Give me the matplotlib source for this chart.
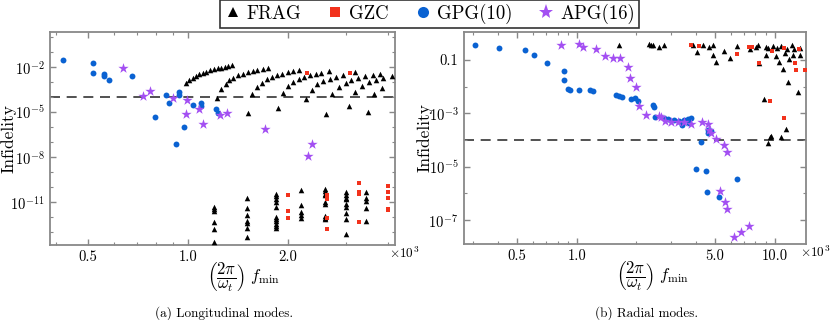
import numpy as np
import matplotlib
matplotlib.use("Agg")
import matplotlib.pyplot as plt
from matplotlib.lines import Line2D

plt.rcParams['font.family'] = 'serif'
plt.rcParams['font.serif'] = ['cmr10', 'DejaVu Serif']
plt.rcParams['mathtext.fontset'] = 'cm'
plt.rcParams['axes.formatter.use_mathtext'] = True

# colours
c_frag = 'black'
c_gzc = '#f2321c'
c_gpg = '#0a62d2'
c_apg = '#a34ff2'

# ---------- (a) longitudinal modes : x in units of 10^3, y as log10(infidelity)
frag_a_x = [0.984, 1.009, 1.033, 1.057, 1.081, 1.107, 1.135, 1.165, 1.195, 1.229, 1.26, 1.292, 1.323, 1.357,
            1.26, 1.226, 1.302, 1.332, 1.369, 1.414, 1.461, 1.516, 1.566, 1.617, 1.679, 1.738,
            1.562, 1.513, 1.61, 1.667, 1.726, 1.787, 1.858, 1.919, 2.0, 2.076, 2.164,
            1.932, 1.863, 1.997, 2.068, 2.155, 2.24, 2.331, 2.43, 2.521, 2.659,
            2.267, 2.358, 2.447, 2.551, 2.684, 2.797, 2.924,
            2.61, 2.72, 2.843, 2.985, 3.091, 3.25, 3.42, 3.6, 3.787, 3.184,
            3.048, 3.19, 3.336, 3.516, 3.685, 3.868, 4.108, 3.477, 3.64, 3.832,
            # lower cluster
            1.195, 1.195, 1.195, 1.195, 1.195, 1.195,
            1.503, 1.503, 1.503, 1.503, 1.503, 1.503, 1.503,
            1.834, 1.834, 1.834, 1.834, 1.834, 1.834, 1.834, 1.834, 1.834, 1.834, 1.834,
            2.194, 2.194, 2.194, 2.194, 2.194,
            2.58, 2.58, 2.58, 2.58, 2.58, 2.58, 2.58, 2.58, 2.58,
            2.985, 2.985, 2.985, 2.985, 2.985, 2.985, 2.985, 2.985, 2.985,
            3.43, 3.43, 3.43, 3.43, 3.43]
frag_a_logy = [-3.07, -2.84, -2.71, -2.60, -2.49, -2.40, -2.31, -2.22, -2.15, -2.09, -2.04, -1.97, -1.93, -1.89,
               -3.47, -4.07, -3.11, -2.89, -2.71, -2.55, -2.44, -2.33, -2.27, -2.20, -2.13, -2.07,
               -3.77, -5.07, -3.33, -3.04, -2.82, -2.67, -2.51, -2.44, -2.33, -2.27, -2.20,
               -3.71, -4.75, -3.27, -3.00, -2.82, -2.67, -2.53, -2.44, -2.37, -2.29,
               -4.15, -3.51, -3.15, -2.93, -2.77, -2.64, -2.51,
               -5.11, -3.77, -3.35, -3.07, -2.87, -2.73, -2.60, -2.51, -2.44, -2.33,
               -4.62, -3.69, -3.29, -3.02, -2.89, -2.71, -2.60, -5.00, -3.82, -3.37,
               -11.33, -11.47, -11.60, -12.29, -12.77, -13.64,
               -10.71, -11.39, -11.82, -12.25, -12.39, -12.75, -13.35,
               -10.44, -10.60, -10.82, -11.02, -11.35, -12.00, -12.13, -12.27, -12.44, -12.57, -12.71,
               -10.20, -11.20, -11.64, -11.82, -12.02,
               -10.11, -10.27, -10.44, -10.55, -11.00, -11.11, -11.95, -12.04, -12.13,
               -10.33, -10.49, -10.71, -10.82, -11.11, -11.33, -11.71, -12.11, -13.13,
               -10.33, -10.71, -10.89, -11.37, -12.22]

gzc_a_x = [2.278, 3.076,
           2.005, 2.005, 2.005,
           2.617, 2.617, 2.617, 2.617,
           3.281, 3.281, 3.281, 3.281,
           4.01, 4.01, 4.01, 4.01, 4.01]
gzc_a_logy = [-2.40, -2.40,
              -10.49, -11.60, -12.07,
              -10.55, -10.77, -12.04, -12.77,
              -9.69, -10.33, -10.44, -12.33,
              -9.89, -10.33, -10.71, -11.44, -11.55]

gpg_a_x = [0.42, 0.519, 0.519, 0.56, 0.56, 0.579, 0.678, 0.795, 0.857, 0.877,
           0.918, 0.938, 0.938, 0.975, 1.035, 1.094, 1.094, 1.214, 1.234]
gpg_a_logy = [-1.55, -1.73, -2.40, -2.44, -2.62, -2.84, -2.57, -5.33, -3.84, -4.40,
              -7.15, -3.67, -3.84, -6.00, -4.51, -4.37, -4.62, -4.82, -5.04]

apg_a_x = [0.637, 0.734, 0.768, 0.899, 0.991, 0.986, 1.079, 1.107, 1.248, 1.308, 1.706, 2.358, 2.294]
apg_a_logy = [-2.07, -3.95, -3.60, -4.07, -4.22, -5.11, -4.82, -5.77, -5.17, -5.04, -6.15, -7.11, -7.95]

# ---------- (b) radial modes
frag_b_x = [1.639, 2.323, 2.373, 2.425, 2.589, 2.773, 3.877, 4.047, 4.319, 4.632, 4.852, 4.852, 5.047,
            5.513, 5.94, 6.488, 7.494, 8.09, 8.28, 8.30, 9.03, 9.03, 9.30, 9.83, 10.14, 10.33, 10.54,
            10.75, 11.04, 11.30, 11.53, 11.84, 12.22, 12.40, 12.55, 11.63, 13.18, 13.41, 13.45,
            8.82, 11.39, 9.63, 9.52, 10.75, 9.29]
frag_b_logy = [-0.44, -0.41, -0.42, -0.45, -0.53, -0.45, -0.44, -0.69, -0.44, -0.53, -0.44, -0.80, -1.06,
               -0.68, -0.91, -0.47, -0.60, -0.50, -0.45, -1.13, -0.50, -0.81, -0.56, -0.48, -0.84, -0.56, -1.09,
               -0.48, -1.35, -0.73, -0.60, -0.97, -0.45, -0.80, -0.59, -1.82, -2.19, -0.54, -0.81,
               -2.47, -3.59, -3.84, -3.88, -3.88, -4.12]

gzc_b_x = [3.775, 4.157, 6.466, 7.43, 7.70, 8.35, 9.75, 11.17, 12.62, 12.84, 13.29, 14.18, 9.47, 11.17]
gzc_b_logy = [-0.43, -0.48, -0.76, -0.50, -0.50, -1.12, -0.66, -0.54, -1.10, -1.38, -0.59, -1.37, -2.52, -3.18]

gpg_b_x = [0.305, 0.404, 0.544, 0.604, 0.704, 0.863, 0.863, 0.904, 0.924, 1.02, 1.166, 1.202,
           1.574, 1.635, 1.694, 1.885, 1.967, 2.045, 2.44, 2.448, 2.477, 2.766, 2.905, 3.108,
           3.294, 3.40, 3.491, 3.627, 3.775, 3.70, 4.577, 4.626, 4.762, 4.245,
           4.0, 4.51, 6.43, 4.524, 5.226]
gpg_b_logy = [-0.42, -0.54, -0.63, -0.82, -1.13, -1.42, -1.74, -2.09, -2.13, -2.11, -2.13, -2.15,
              -2.31, -2.34, -2.37, -2.48, -2.44, -2.53, -2.67, -2.76, -3.13, -3.19, -3.21, -3.24,
              -3.28, -3.45, -3.26, -3.21, -3.18, -3.37, -3.62, -3.74, -3.68, -4.09,
              -5.09, -5.18, -5.46, -5.94, -6.12]

apg_b_x = [0.827, 1.027, 1.075, 1.25, 1.393, 1.529, 1.653, 1.806, 1.863, 1.981, 2.069, 2.226,
           2.589, 2.673, 2.799, 3.009, 3.229, 3.491, 3.775, 4.279, 4.603, 4.679, 4.762, 5.035,
           5.54, 5.737, 5.305, 5.61, 5.709, 7.46, 6.76, 6.25]
apg_b_logy = [-0.42, -0.41, -0.51, -0.59, -0.85, -0.93, -0.93, -1.28, -1.67, -2.00, -2.74, -3.05,
              -3.09, -3.15, -3.30, -3.34, -3.32, -3.34, -3.40, -3.31, -3.40, -3.64, -3.74, -3.96,
              -4.18, -4.46, -5.91, -6.32, -6.60, -7.22, -7.45, -7.65]

threshold = 1e-4

# tick positions / labels
a_xticks = [0.5, 1.0, 2.0]
a_xlabels = ['0.5', '1.0', '2.0']
a_yticks = [1e-11, 1e-8, 1e-5, 1e-2]
a_ylabels = [r'$10^{-11}$', r'$10^{-8}$', r'$10^{-5}$', r'$10^{-2}$']
b_xticks = [0.5, 1.0, 5.0, 10.0]
b_xlabels = ['0.5', '1.0', '5.0', '10.0']
b_yticks = [1e-7, 1e-5, 1e-3, 1e-1]
b_ylabels = [r'$10^{-7}$', r'$10^{-5}$', r'$10^{-3}$', '0.1']


def draw(ax, fx, fy, zx, zy, gx, gy, ax_, ay):
    ax.axhline(threshold, color='#333333', ls=(0, (6, 4)), lw=1.2, zorder=1)
    ax.scatter(fx, 10.0 ** np.array(fy), marker='^', s=16, color=c_frag, lw=0, zorder=3)
    ax.scatter(zx, 10.0 ** np.array(zy), marker='s', s=11, color=c_gzc, lw=0, zorder=3)
    ax.scatter(gx, 10.0 ** np.array(gy), marker='o', s=18, color=c_gpg, lw=0, zorder=3)
    ax.scatter(ax_, 10.0 ** np.array(ay), marker='*', s=60, color=c_apg, lw=0, zorder=3)
    ax.set_xscale('log')
    ax.set_yscale('log')
    for sp in ax.spines.values():
        sp.set_color('#888888')
        sp.set_linewidth(1.3)
    ax.tick_params(which='both', direction='in', top=True, right=True, color='#888888',
                   labelsize=10.5, pad=4)
    ax.tick_params(which='major', length=4.5, width=1)
    ax.tick_params(which='minor', length=2.5, width=0.8)
    ax.set_ylabel('Infidelity', fontsize=12.5)
    ax.set_xlabel(r'$\left(\dfrac{2\pi}{\omega_t}\right)\ f_{\min}$', fontsize=12)
    ax.text(0.982, -0.005, r'$\times10^3$', transform=ax.transAxes, ha='left', va='top', fontsize=9.5)


fig = plt.figure(figsize=(8.3, 3.2), dpi=100)
ax1 = fig.add_axes([50 / 830, 75 / 320, 345 / 830, 213 / 320])
ax2 = fig.add_axes([464 / 830, 76 / 320, 342 / 830, 212 / 320])

draw(ax1, frag_a_x, frag_a_logy, gzc_a_x, gzc_a_logy, gpg_a_x, gpg_a_logy, apg_a_x, apg_a_logy)
draw(ax2, frag_b_x, frag_b_logy, gzc_b_x, gzc_b_logy, gpg_b_x, gpg_b_logy, apg_b_x, apg_b_logy)

# axis (a): x tick labels written out explicitly under the ticks
ax1.set_xlim(0.384, 4.2)
ax1.set_ylim(10 ** -13.85, 10 ** 0.33)
ax1.set_xticks([0.4, 0.6, 0.7, 0.8, 0.9, 3.0, 4.0], labels=[''] * 7, minor=True)
ax1.set_xticks(a_xticks, labels=[''] * len(a_xticks))
for xv, lab in zip(a_xticks, a_xlabels):
    ax1.text(xv, -0.026, lab, transform=ax1.get_xaxis_transform(), ha='center', va='top', fontsize=10.5)
ax1.set_yticks([10.0 ** k for k in range(-13, 1)], labels=[''] * 14, minor=True)
ax1.set_yticks(a_yticks, labels=a_ylabels)

# axis (b)
ax2.set_xlim(0.269, 14.4)
ax2.set_ylim(10 ** -7.9, 10 ** 0.05)
ax2.set_xticks([0.3, 0.4, 0.6, 0.7, 0.8, 0.9, 2, 3, 4, 6, 7, 8, 9], labels=[''] * 13, minor=True)
ax2.set_xticks(b_xticks, labels=b_xlabels)
ax2.set_yticks([1e-6, 1e-4, 1e-2], labels=[''] * 3, minor=True)
ax2.set_yticks(b_yticks, labels=b_ylabels)

ax1.xaxis.set_label_coords(0.56, -0.075)
ax2.xaxis.set_label_coords(0.55, -0.075)
ax1.yaxis.set_label_coords(-0.096, 0.5)
ax2.yaxis.set_label_coords(-0.093, 0.5)

fig.text(224 / 830, 0.023, '(a) Longitudinal modes.', ha='center', va='center', fontsize=9.5)
fig.text(646 / 830, 0.023, '(b) Radial modes.', ha='center', va='center', fontsize=9.5)

handles = [
    Line2D([], [], ls='none', marker='^', ms=7, color=c_frag, mew=0),
    Line2D([], [], ls='none', marker='s', ms=6.5, color=c_gzc, mew=0),
    Line2D([], [], ls='none', marker='o', ms=8, color=c_gpg, mew=0),
    Line2D([], [], ls='none', marker='*', ms=11, color=c_apg, mew=0),
]
leg = fig.legend(handles, ['FRAG', 'GZC', 'GPG(10)', 'APG(16)'], loc='upper center',
                 bbox_to_anchor=(429 / 830, 1.0), ncol=4, fontsize=13.5, frameon=True, fancybox=False,
                 edgecolor='black', borderpad=0.2, handletextpad=0.25, columnspacing=1.3,
                 handlelength=1.0, borderaxespad=0)
leg.get_frame().set_linewidth(1.2)

fig.savefig('out.png', dpi=100)
